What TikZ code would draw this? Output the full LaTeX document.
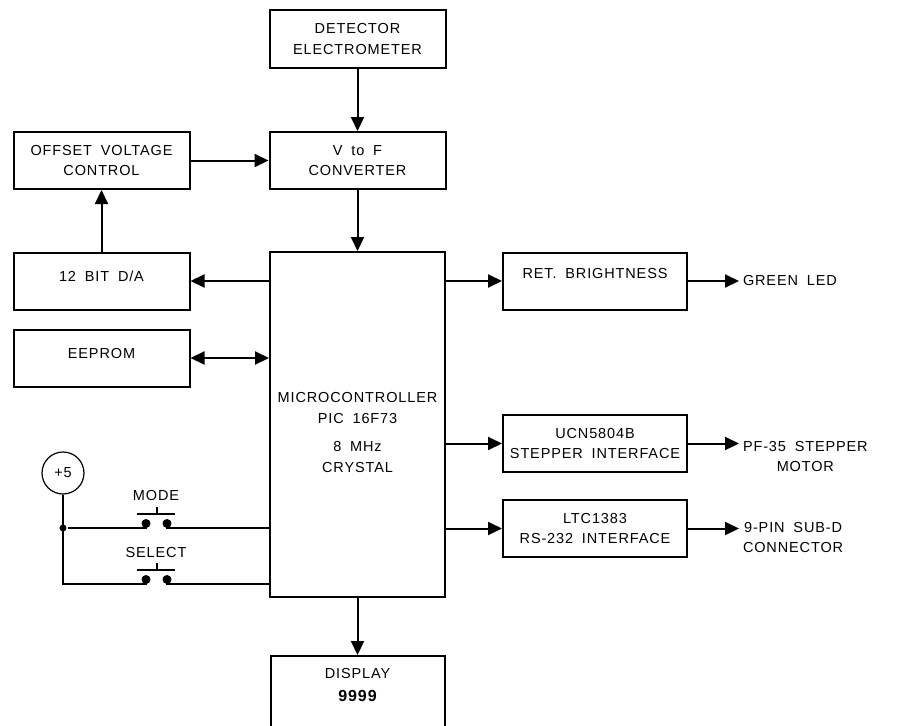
\documentclass[tikz,border=0pt]{standalone}
\usepackage{fontspec}
\setmainfont[LetterSpace=6,WordSpace=1.8]{Liberation Sans}
\usetikzlibrary{arrows.meta,positioning}

\tikzset{
  blk/.style={draw, line width=2pt, minimum width=176pt, minimum height=57pt, align=center, inner sep=2pt},
  rblk/.style={blk, minimum width=184pt},
  raised/.style={text depth=10pt},
  outlbl/.style={align=center, anchor=west, inner sep=3pt},
  dot/.style={circle, fill, inner sep=0pt, minimum size=7pt},
  every edge/.style={draw, line width=2pt},
}

\begin{document}
\begin{tikzpicture}[x=1pt, y=-1pt, line width=2pt, >={Triangle[length=14pt,width=13pt]},
  font=\fontsize{14.5}{20.5}\selectfont]
   \useasboundingbox (0,0) rectangle (901,725);

   \node[blk] (dete) at (357.5,39)    {DETECTOR\\ELECTROMETER};
   \node[blk] (vtof) at (357.5,160.5) {V to F\\CONVERTER};
   \node[blk] (offs) at (101.5,160.5) {OFFSET VOLTAGE\\CONTROL};
   \node[blk, raised] (dac) at (101.5,281) {12 BIT D/A};
   \node[blk, raised] (eep) at (101.5,358) {EEPROM};
   \node[blk, minimum width=175pt, minimum height=345pt] (mcu) at (357.5,424.5)
        {\mbox{}\\[6pt]MICROCONTROLLER\\PIC 16F73\\[8pt]8 MHz\\CRYSTAL};
   \node[rblk, text depth=15pt] (ret) at (595,281) {RET. BRIGHTNESS};
   \node[rblk] (ucn) at (595,443.5) {UCN5804B\\STEPPER INTERFACE};
   \node[rblk] (ltc) at (595,528.5) {LTC1383\\RS-232 INTERFACE};
   \node[blk, minimum width=174pt, minimum height=90pt, anchor=north] (disp) at (357.5,655) {};
   \node[below=12pt of disp.north, align=center, inner sep=0pt] (dtxt)
        {DISPLAY\\[3pt]{\fontsize{16}{20}\bfseries 9999}};

   % outputs
   \node[outlbl] (led) at (739,281) {GREEN LED};
   \node[outlbl, anchor=north west] (pf)  at (739,437) {PF-35 STEPPER\\MOTOR};
   \node[outlbl, anchor=north west] (sub) at (739,518) {9-PIN SUB-D\\CONNECTOR};

   \path[->]
    (dete) edge (vtof)
    (offs) edge (vtof)
    (vtof) edge (mcu)
    (dac)  edge (offs)
    (mcu.west |- dac) edge (dac)
    (mcu.east |- ret) edge (ret)
    (mcu.east |- ucn) edge (ucn)
    (mcu.east |- ltc) edge (ltc)
    (ret) edge (led.west |- ret)
    (ucn) edge (pf.west |- ucn)
    (ltc) edge (sub.west |- ltc)
    (mcu) edge (disp);
   \path[<->] (eep) edge (mcu.west |- eep);

   % +5 and the two push buttons
   \node[circle, draw, line width=1.2pt, minimum size=42pt, inner sep=0pt] (p5) at (63,473) {+5};
   \node[dot] (j) at (63,528) {};
   \coordinate (sel) at (63,584);
   \node[dot, minimum size=9pt] (md1) at (146,523.5) {};
   \node[dot, minimum size=9pt] (md2) at (167,523.5) {};
   \node[dot, minimum size=9pt] (sd1) at (146,579.5) {};
   \node[dot, minimum size=9pt] (sd2) at (167,579.5) {};
   \node (mode) at (156,496) {MODE};
   \node (selt) at (156,552) {SELECT};

   \draw (p5) -- (sel) -| (sd1);
   \draw (j) -| (md1);
   \draw (md2) |- (mcu.west |- j);
   \draw (sd2) |- (mcu.west |- sel);
   \draw (md1) ++(-9,-9.5) -- ++(38,0) (md1) ++(10.5,-9.5) -- ++(0,-7);
   \draw (sd1) ++(-9,-9.5) -- ++(38,0) (sd1) ++(10.5,-9.5) -- ++(0,-7);
\end{tikzpicture}
\end{document}
